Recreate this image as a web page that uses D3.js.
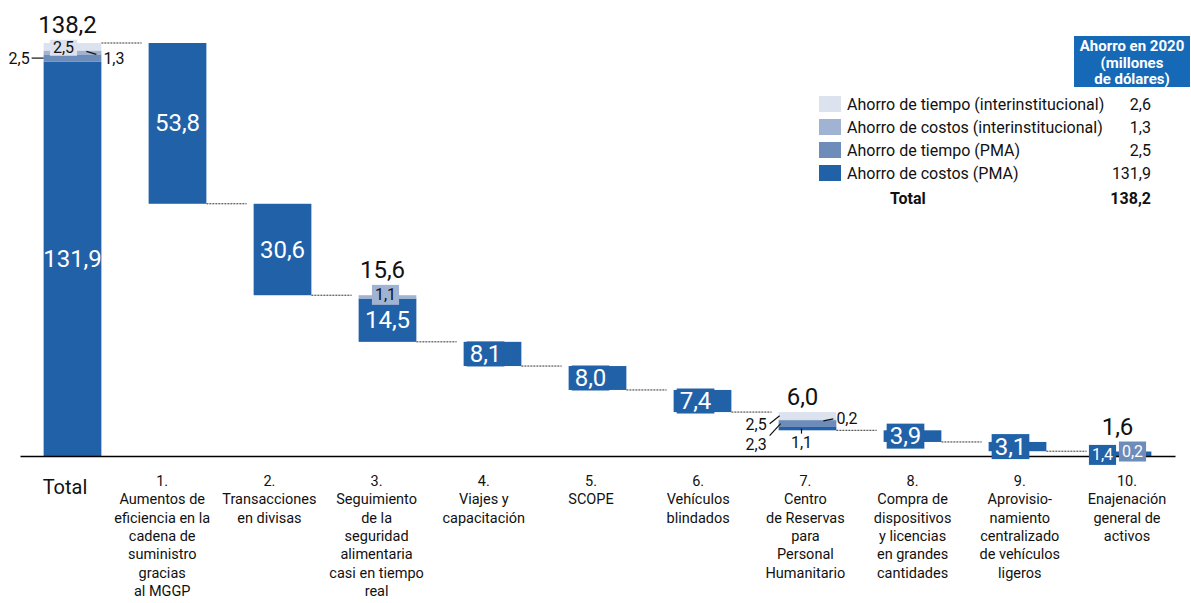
<!DOCTYPE html>
<html>
<head>
<meta charset="utf-8">
<script src="https://cdn.jsdelivr.net/npm/d3@7"></script>
<style>
  body { margin: 0; background: #fff; }
  text { font-family: Roboto, "Open Sans", sans-serif; fill: #111; }
</style>
</head>
<body>
<svg id="chart" width="1191" height="603"></svg>
<script>
const categories = ["Total", "1", "2", "3", "4", "5", "6", "7", "8", "9", "10"];
const categoryLines = [
  ["Total"],
  ["1.", "Aumentos de", "eficiencia en la", "cadena de", "suministro", "gracias", "al MGGP"],
  ["2.", "Transacciones", "en divisas"],
  ["3.", "Seguimiento", "de la", "seguridad", "alimentaria", "casi en tiempo", "real"],
  ["4.", "Viajes y", "capacitación"],
  ["5.", "SCOPE"],
  ["6.", "Vehículos", "blindados"],
  ["7.", "Centro", "de Reservas", "para", "Personal", "Humanitario"],
  ["8.", "Compra de", "dispositivos", "y licencias", "en grandes", "cantidades"],
  ["9.", "Aprovisio-", "namiento", "centralizado", "de vehículos", "ligeros"],
  ["10.", "Enajenación", "general de", "activos"]
];

// savings per category (millions USD)
const costPMA   = [131.9, 53.8, 30.6, 14.5, 8.1, 8.0, 7.4, 1.1, 3.9, 3.1, 1.4];
const timePMA   = [2.5, 0, 0, 0, 0, 0, 0, 2.3, 0, 0, 0.2];
const costInter = [1.3, 0, 0, 1.1, 0, 0, 0, 0.2, 0, 0, 0];
const timeInter = [2.5, 0, 0, 0, 0, 0, 0, 2.5, 0, 0, 0];
const totalLabels = ["138,2", "", "", "15,6", "", "", "", "6,0", "", "", "1,6"];

const legendNames = ["Ahorro de tiempo (interinstitucional)", "Ahorro de costos (interinstitucional)",
                     "Ahorro de tiempo (PMA)", "Ahorro de costos (PMA)"];
const legendKeys = ["timeInter", "costInter", "timePMA", "costPMA"];
const legendValues = ["2,6", "1,3", "2,5", "131,9"];
const legendTotal = "138,2";

const keys = ["costPMA", "timePMA", "costInter", "timeInter"];
const colors = { costPMA: "#2161a8", timePMA: "#6d8cba", costInter: "#a0b3d2", timeInter: "#dce3ee" };

const rows = categories.map((c, i) => ({
  cat: c, costPMA: costPMA[i], timePMA: timePMA[i], costInter: costInter[i], timeInter: timeInter[i]
}));
const totals = rows.map(r => d3.sum(keys, k => r[k]));

// waterfall: each step hangs from the bottom of the previous one
const bases = [0];
let level = totals[0];
for (let i = 1; i < rows.length; i++) {
  bases[i] = Math.max(0, level - totals[i]);
  level = bases[i];
}

const svg = d3.select("#chart");

const x = d3.scaleBand().domain(categories).range([20, 1175]).paddingInner(0.45).paddingOuter(0.225);
const y = d3.scaleLinear().domain([0, totals[0]]).range([456, 43]);
const xLab = d3.scalePoint().domain(categories).range([55, 1127]);
const bw = x.bandwidth();
const fmt = v => d3.format(".1f")(v).replace(".", ",");

const stacked = d3.stack().keys(keys)(rows);
const segs = [];
stacked.forEach(s => s.forEach((d, i) => {
  if (d[1] - d[0] > 0) segs.push({ key: s.key, i: i, y0: d[0] + bases[i], y1: d[1] + bases[i], v: d[1] - d[0] });
}));

// connectors
const conn = svg.append("g");
for (let i = 0; i < categories.length - 1; i++) {
  const lv = i === 0 ? totals[0] : bases[i];
  conn.append("line")
    .attr("x1", x(categories[i]) + bw).attr("x2", x(categories[i + 1]) - 7)
    .attr("y1", y(lv)).attr("y2", y(lv))
    .attr("stroke", "#333").attr("stroke-width", 1).attr("stroke-dasharray", "2,1");
}

// bars
svg.append("g").selectAll("rect").data(segs).enter().append("rect")
  .attr("x", d => x(categories[d.i]))
  .attr("width", bw)
  .attr("y", d => y(d.y1))
  .attr("height", d => y(d.y0) - y(d.y1))
  .attr("fill", d => colors[d.key]);

// axis line + category labels
const axis = svg.append("g").attr("transform", "translate(0,456)")
  .call(d3.axisBottom(x).tickSize(0).tickSizeOuter(0).tickFormat(() => ""));
axis.select(".domain").attr("stroke", "#000").attr("stroke-width", 1.5);

const labG = svg.append("g");
categories.forEach((c, i) => {
  if (i === 0) {
    labG.append("text").attr("x", x(c) - 1).attr("y", 494).attr("font-size", 20).text(categoryLines[0][0]);
    return;
  }
  const t = labG.append("text").attr("text-anchor", "middle").attr("font-size", 14.5);
  categoryLines[i].forEach((ln, j) => {
    t.append("tspan").attr("x", xLab(c)).attr("y", 486 + j * 18.3).text(ln);
  });
});

const ann = svg.append("g");
const topExtent = categories.map((c, i) => y(bases[i] + totals[i]));

function boxLabel(s, opts) {
  const cx = x(categories[s.i]) + bw / 2 + (opts.dx || 0);
  const cy = (y(s.y0) + y(s.y1)) / 2 + (opts.dy || 0);
  const segH = y(s.y0) - y(s.y1);
  const g = ann.append("g");
  const t = g.append("text").attr("x", cx).attr("y", cy)
    .attr("text-anchor", "middle").attr("dominant-baseline", "central")
    .attr("font-size", opts.size).style("fill", opts.color).text(fmt(s.v));
  const h = opts.h;
  if (segH >= h) return; // label fits in the bar, no backing box needed
  const bb = t.node().getBBox();
  g.insert("rect", "text")
    .attr("x", bb.x - 3).attr("width", bb.width + 6)
    .attr("y", cy - h / 2).attr("height", h)
    .attr("fill", colors[s.key]);
  topExtent[s.i] = Math.min(topExtent[s.i], cy - h / 2);
}

function callout(s, tx, ty, anchor, line) {
  ann.append("text").attr("x", tx).attr("y", ty).attr("text-anchor", anchor)
    .attr("dominant-baseline", "central").attr("font-size", 16).text(fmt(s.v));
  ann.append("line").attr("x1", line[0]).attr("y1", line[1]).attr("x2", line[2]).attr("y2", line[3])
    .attr("stroke", "#111").attr("stroke-width", 1.2);
}

segs.forEach(s => {
  const left = x(categories[s.i]);
  const right = left + bw;
  const mid = (y(s.y0) + y(s.y1)) / 2;
  const segH = y(s.y0) - y(s.y1);
  if (s.i === 7) {
    if (s.key === "timeInter") callout(s, left - 12, mid + 9, "end", [left - 9, mid + 8, left + 1, mid]);
    if (s.key === "timePMA") callout(s, left - 12, mid + 21, "end", [left - 9, mid + 12, left + 2, mid]);
    if (s.key === "costInter") callout(s, right, mid - 1, "start", [right - 13, mid + 1, right - 3, mid - 1]);
    if (s.key === "costPMA") callout(s, left + bw / 2 - 6, mid + 14, "middle", [left + bw / 2 - 6, mid + 5, left + bw / 2 - 6, mid]);
    return;
  }
  if (s.i === 10) {
    if (s.key === "costPMA") boxLabel(s, { size: 16, color: "#fff", dx: -20, dy: 1, h: 20 });
    if (s.key === "timePMA") boxLabel(s, { size: 16, color: "#fff", dx: 10, dy: 0, h: 20 });
    return;
  }
  if (s.key === "costPMA") {
    boxLabel(s, { size: 24, color: "#fff", dx: segH < 25 ? -7 : 0, h: 25 });
  } else if (s.key === "timeInter" || (s.key === "costInter" && s.i === 3)) {
    boxLabel(s, { size: 16, color: "#111", dx: s.i === 0 ? -9 : -2, dy: s.i === 0 ? 1 : -2, h: s.i === 0 ? 16 : 20 });
  } else if (s.key === "timePMA") {
    callout(s, left - 14, mid, "end", [left - 12, mid, left, mid]);
  } else if (s.key === "costInter") {
    callout(s, right + 2, mid + 6, "start", [right - 15, mid - 1, right - 5, mid + 2]);
  }
});

// totals above bars
categories.forEach((c, i) => {
  if (!totalLabels[i]) return;
  ann.append("text").attr("x", x(c) + bw / 2 - 5).attr("y", topExtent[i] - 7)
    .attr("text-anchor", "middle").attr("font-size", 24).text(totalLabels[i]);
});

// legend
const lg = svg.append("g");
lg.append("rect").attr("x", 1074).attr("y", 36).attr("width", 116).attr("height", 51).attr("fill", "#1569b6");
["Ahorro en 2020", "(millones", "de dólares)"].forEach((t, j) => {
  lg.append("text").attr("x", 1132).attr("y", 51 + j * 16.5).attr("text-anchor", "middle")
    .attr("font-size", 15).attr("font-weight", "bold").style("fill", "#fff").text(t);
});
legendNames.forEach((n, j) => {
  const ry = 104 + j * 23;
  lg.append("rect").attr("x", 819).attr("y", ry - 8).attr("width", 22).attr("height", 16).attr("fill", colors[legendKeys[j]]);
  lg.append("text").attr("x", 847).attr("y", ry).attr("dominant-baseline", "central").attr("font-size", 16).text(n);
  lg.append("text").attr("x", 1151).attr("y", ry).attr("dominant-baseline", "central")
    .attr("text-anchor", "end").attr("font-size", 16).text(legendValues[j]);
});
lg.append("text").attr("x", 890).attr("y", 198).attr("dominant-baseline", "central")
  .attr("font-size", 16).attr("font-weight", "bold").text("Total");
lg.append("text").attr("x", 1151).attr("y", 198).attr("dominant-baseline", "central")
  .attr("text-anchor", "end").attr("font-size", 16).attr("font-weight", "bold").text(legendTotal);
</script>
</body>
</html>
